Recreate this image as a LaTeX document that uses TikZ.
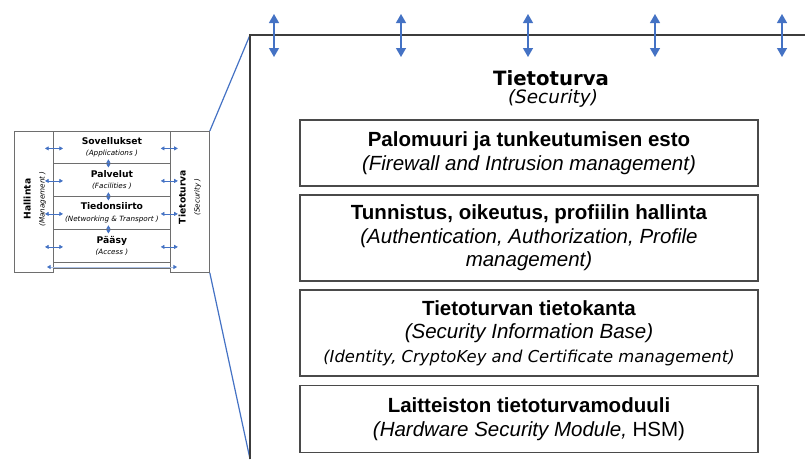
\documentclass[tikz,border=0pt]{standalone}
\usepackage{fontspec}
\setmainfont{Liberation Sans}
\newfontfamily\dejavu{DejaVu Sans}
\usetikzlibrary{arrows.meta}

\definecolor{linkblue}{HTML}{4472C4}
\definecolor{framegray}{HTML}{3C3C3C}
\definecolor{boxgray}{HTML}{4A4A4A}
\definecolor{cellgray}{HTML}{6E6E6E}

% fonts of the small stack
\newcommand\cellhead{\dejavu\bfseries\fontsize{9.2}{11.5}\selectfont}
\newcommand\cellsub{\dejavu\itshape\fontsize{7.2}{11.5}\selectfont}

\begin{document}
\begin{tikzpicture}[x=1pt,y=-1pt,
  cell/.style={draw=cellgray, line width=0.8pt, anchor=north west, inner sep=0pt},
  layer/.style={cell, minimum width=117pt, align=center, font=\fontsize{7.2}{11.5}\selectfont},
  sidecol/.style={cell, minimum width=39pt, minimum height=141pt},
  sidetext/.style={rotate=90, align=center, inner sep=0pt, font=\fontsize{7.2}{14}\selectfont},
  tinyarrow/.style={linkblue, line width=0.6pt, {Triangle[width=4pt,length=3.6pt]}-{Triangle[width=4pt,length=3.6pt]}},
  striparrow/.style={draw=linkblue!45, line width=0.8pt,
    {Triangle[width=4pt,length=3.6pt,color=linkblue]}-{Triangle[width=4pt,length=3.6pt,color=linkblue]}},
  bigarrow/.style={linkblue, line width=1.3pt, {Triangle[width=10pt,length=9pt]}-{Triangle[width=10pt,length=9pt]}},
  zoomline/.style={linkblue, line width=1.2pt},
  frameline/.style={framegray, line width=1.8pt},
  mainbox/.style={draw=boxgray, line width=1.3pt, minimum width=458pt, align=center, inner sep=0pt,
    font=\fontsize{20.5}{23.5}\selectfont},
]
\useasboundingbox (0,0) rectangle (805,459);

% ---------- small protocol stack ----------
\node[sidecol] (mgmt) at (14,131) {};
\node[sidecol] (secCol) at (170,131) {};
\node[layer, minimum height=32pt] (app) at (53,131) {{\cellhead Sovellukset}\\{\cellsub (Applications )}};
\node[layer, minimum height=33pt] (fac) at (53,163) {{\cellhead Palvelut}\\{\cellsub (Facilities )}};
\node[layer, minimum height=33pt] (net) at (53,196) {{\cellhead Tiedonsiirto}\\{\cellsub (Networking \& Transport )}};
\node[layer, minimum height=33pt] (acc) at (53,229) {{\cellhead P\"a\"asy}\\{\cellsub (Access )}};
\node[layer, minimum height=6pt] (strip) at (53,262) {};

\node[sidetext] (mgmtTxt) at (35,199) {{\cellhead Hallinta}\\{\cellsub (Management )}};
\node[sidetext] (secTxt) at (190,197) {{\cellhead Tietoturva}\\{\cellsub (Security )}};

% arrows from each layer to the side columns
\foreach \n in {app,fac,net,acc}{
  \draw[tinyarrow] ([xshift=-8pt,yshift=-1pt]\n.west) -- ([xshift=10pt,yshift=-1pt]\n.west);
  \draw[tinyarrow] ([xshift=-10pt,yshift=-1pt]\n.east) -- ([xshift=7pt,yshift=-1pt]\n.east);
}
% arrows between neighbouring layers
\foreach \a/\b in {app/fac,fac/net,net/acc}{
  \draw[tinyarrow] ([xshift=-3.5pt,yshift=4.5pt]\a.south) -- ([xshift=-3.5pt,yshift=-4.5pt]\b.north);
}
% long arrow along the bottom strip
\coordinate (stripL) at (47,267);
\coordinate (stripR) at (177,267);
\draw[striparrow] (stripL) -- (stripR);

% ---------- enlarged security column ----------
\coordinate (frameTL) at (250,35);
\coordinate (frameBL) at (250,459);
\coordinate (frameTR) at (805,35);
\draw[zoomline] (secCol.north east) -- (frameTL);
\draw[zoomline] (secCol.south east) -- (frameBL);
\draw[frameline] (frameBL) -- (frameTL) -- (frameTR);

\foreach \i/\x in {1/274,2/401,3/528,4/655,5/782}{
  \coordinate (up\i) at (\x,14);
  \coordinate (dn\i) at (\x,57);
  \draw[bigarrow] (up\i) -- (dn\i);
}

\node[anchor=base, font=\dejavu\bfseries\fontsize{19.7}{22}\selectfont] (title) at (551,85) {Tietoturva};
\node[anchor=base, font=\dejavu\itshape\fontsize{18.4}{22}\selectfont] (subtitle) at (553,103) {(Security)};

\node[mainbox, minimum height=66pt] (fw) at (529,153)
  {{\bfseries Palomuuri ja tunkeutumisen esto}\\{\itshape (Firewall and Intrusion management)}};
\node[mainbox, minimum height=86pt] (auth) at (529,238)
  {{\bfseries Tunnistus, oikeutus, profiilin hallinta}\\{\itshape (Authentication, Authorization, Profile}\\{\itshape management)}};
\node[mainbox, minimum height=86pt] (sib) at (529,333)
  {{\bfseries Tietoturvan tietokanta}\\{\itshape (Security Information Base)}\\{\dejavu\itshape\fontsize{16.4}{23.5}\selectfont (Identity, CryptoKey and Certificate management)}};
\node[mainbox, minimum height=67pt] (hsm) at (529,419)
  {{\bfseries Laitteiston tietoturvamoduuli}\\{\itshape (Hardware Security Module,} HSM)};
\end{tikzpicture}
\end{document}
